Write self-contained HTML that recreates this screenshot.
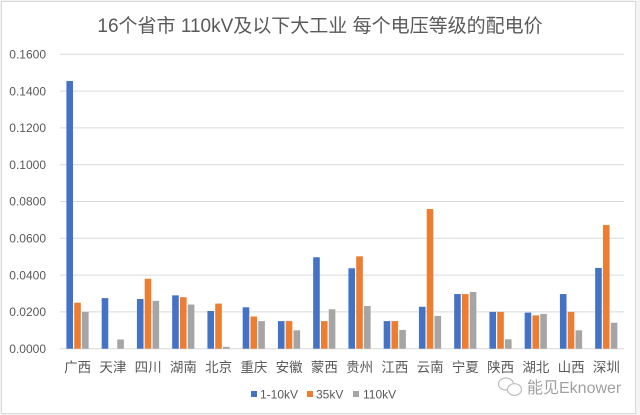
<!DOCTYPE html>
<html>
<head>
<meta charset="utf-8">
<style>
html,body{margin:0;padding:0;background:#f4f4f4;}
svg{display:block;}
text{font-family:"Liberation Sans","Noto Sans CJK SC",sans-serif;}
</style>
</head>
<body>
<svg width="640" height="415" viewBox="0 0 640 415" xmlns="http://www.w3.org/2000/svg">
<rect x="0" y="0" width="640" height="415" fill="#f4f4f4"/>
<rect x="1.5" y="1.5" width="634" height="412" fill="#ffffff" stroke="#d9d9d9" stroke-width="1"/>
<text x="320" y="32" text-anchor="middle" font-size="19" fill="#595959">16个省市 110kV及以下大工业 每个电压等级的配电价</text>
<g stroke="#d9d9d9" stroke-width="1">
<line x1="60" x2="624" y1="54.3" y2="54.3"/>
<line x1="60" x2="624" y1="91.1" y2="91.1"/>
<line x1="60" x2="624" y1="127.9" y2="127.9"/>
<line x1="60" x2="624" y1="164.7" y2="164.7"/>
<line x1="60" x2="624" y1="201.5" y2="201.5"/>
<line x1="60" x2="624" y1="238.3" y2="238.3"/>
<line x1="60" x2="624" y1="275.1" y2="275.1"/>
<line x1="60" x2="624" y1="311.9" y2="311.9"/>
<line x1="60" x2="624" y1="348.7" y2="348.7"/>
</g>
<g font-size="12" fill="#595959" text-anchor="end">
<text x="46" y="58.5">0.1600</text>
<text x="46" y="95.3">0.1400</text>
<text x="46" y="132.1">0.1200</text>
<text x="46" y="168.9">0.1000</text>
<text x="46" y="205.7">0.0800</text>
<text x="46" y="242.5">0.0600</text>
<text x="46" y="279.3">0.0400</text>
<text x="46" y="316.1">0.0200</text>
<text x="46" y="352.9">0.0000</text>
</g>
<g id="bars"></g>
<g font-size="13.5" fill="#595959" text-anchor="middle" id="cats"></g>
<script>
(function(){
var names=["广西","天津","四川","湖南","北京","重庆","安徽","蒙西","贵州","江西","云南","宁夏","陕西","湖北","山西","深圳"];
var d=[[0.1455,0.025,0.020],[0.0275,0,0.005],[0.027,0.038,0.026],[0.029,0.028,0.024],[0.0205,0.0245,0.001],[0.0225,0.0175,0.015],[0.015,0.015,0.010],[0.0497,0.015,0.0214],[0.0437,0.0502,0.0232],[0.015,0.015,0.0102],[0.0228,0.0759,0.0178],[0.0297,0.0297,0.0308],[0.020,0.020,0.0051],[0.0196,0.0181,0.0189],[0.0297,0.020,0.010],[0.0439,0.0672,0.0141]];
var cols=["#4472C4","#ED7D31","#A5A5A5"];
var ns="http://www.w3.org/2000/svg";
var g=document.getElementById("bars"),gc=document.getElementById("cats");
for(var i=0;i<16;i++){
 var c=60+35.25*(i+0.5);
 var offs=[-11.2,-3.4,4.4];
 for(var k=0;k<3;k++){
  var v=d[i][k]; if(v<=0) continue;
  var h=v*1840;
  var r=document.createElementNS(ns,"rect");
  r.setAttribute("x",(c+offs[k]).toFixed(2));
  r.setAttribute("y",(348.7-h).toFixed(2));
  r.setAttribute("width","6.6");
  r.setAttribute("height",h.toFixed(2));
  r.setAttribute("fill",cols[k]);
  g.appendChild(r);
 }
 var t=document.createElementNS(ns,"text");
 t.setAttribute("x",c.toFixed(2));
 t.setAttribute("y","372");
 t.textContent=names[i];
 gc.appendChild(t);
}
})();
</script>
<g font-size="12" fill="#595959">
<rect x="251" y="391" width="6" height="6" fill="#4472C4"/>
<text x="260" y="398.5">1-10kV</text>
<rect x="307" y="391" width="6" height="6" fill="#ED7D31"/>
<text x="316" y="398.5">35kV</text>
<rect x="353" y="391" width="6" height="6" fill="#A5A5A5"/>
<text x="363" y="398.5">110kV</text>
</g>
<g fill="none" stroke="#bdbdbd" stroke-width="1.2">
<ellipse cx="506" cy="384" rx="7.5" ry="6"/>
<ellipse cx="514.5" cy="389.5" rx="7" ry="5.8" fill="#ffffff"/>
</g>
<text x="527" y="393" font-size="16" fill="#a0a0a0">能见Eknower</text>
</svg>
</body>
</html>
